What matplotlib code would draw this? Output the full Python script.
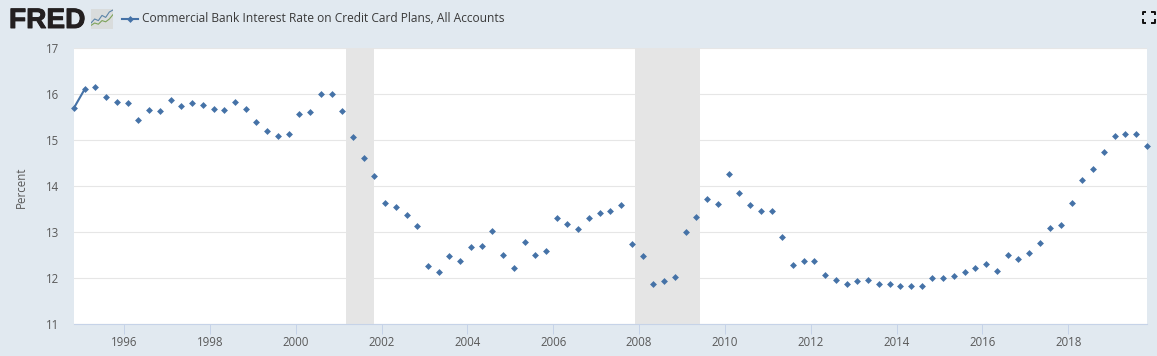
"""
FRED graph: commercial bank interest rate on credit card plans, all accounts.
"""

import matplotlib
matplotlib.use('Agg')
import matplotlib.pyplot as plt
import matplotlib.dates as mdates
import matplotlib.patheffects as pe
import pandas as pd

W, H = 1157, 356
BG = '#e1e9f0'
BLUE = '#4572a7'
GRID = '#e6e6e6'
AXIS = '#c6d3e8'
TEXT = '#595959'

START = '1994-11-01'
rates = [
    15.70, 16.11, 16.15, 15.93, 15.82, 15.81, 15.44, 15.66, 15.64, 15.88,
    15.75, 15.81, 15.77, 15.68, 15.66, 15.83, 15.68, 15.40, 15.20, 15.08,
    15.13, 15.56, 15.61, 15.99, 16.00, 15.64, 15.07, 14.60, 14.22, 13.63,
    13.54, 13.38, 13.12, 12.27, 12.14, 12.48, 12.36, 12.68, 12.70, 13.03,
    12.51, 12.22, 12.78, 12.49, 12.59, 13.31, 13.17, 13.07, 13.31, 13.42,
    13.46, 13.59, 12.75, 12.48, 11.88, 11.94, 12.03, 12.99, 13.33, 13.72,
    13.61, 14.27, 13.85, 13.59, 13.45, 13.45, 12.90, 12.29, 12.38, 12.36,
    12.07, 11.96, 11.88, 11.94, 11.96, 11.88, 11.86, 11.83, 11.83, 11.83,
    12.01, 11.99, 12.05, 12.12, 12.22, 12.31, 12.16, 12.51, 12.42, 12.55,
    12.77, 13.09, 13.16, 13.64, 14.14, 14.38, 14.75, 15.09, 15.14, 15.12,
    14.88,
]
recessions = [('2001-03-01', '2001-11-01'), ('2007-12-01', '2009-06-01')]
y_ticks = [11, 12, 13, 14, 15, 16, 17]
x_years = list(range(1996, 2020, 2))
legend_label = 'Commercial Bank Interest Rate on Credit Card Plans, All Accounts'

# icon lines in the logo
logo_blue = [0.30, 0.50, 0.42, 0.68, 0.58, 0.85, 0.95]
logo_green = [0.18, 0.30, 0.24, 0.42, 0.36, 0.50, 0.72]

plt.rcParams['font.family'] = ['Open Sans', 'DejaVu Sans']

dates = pd.date_range(START, periods=len(rates), freq='3MS')

fig = plt.figure(figsize=(W / 100, H / 100), dpi=100, facecolor=BG)


def px_axes(left, top, right, bottom):
    return fig.add_axes([left / W, 1 - bottom / H, (right - left) / W, (bottom - top) / H])


ax = px_axes(74, 48, 1147, 324)
ax.set_facecolor('white')
ax.set_xlim(dates[0], dates[-1])
ax.set_ylim(11, 17)

for start, end in recessions:
    ax.axvspan(pd.Timestamp(start), pd.Timestamp(end), color='#e5e5e5', lw=0, zorder=2)

ax.plot(dates[:2], rates[:2], color=BLUE, lw=1.5, zorder=3, clip_on=False)
ax.plot(dates, rates, ls='none', marker='D', ms=3.5, color=BLUE, mew=0, zorder=4, clip_on=False)

ax.set_yticks(y_ticks)
ax.grid(axis='y', color=GRID, lw=0.8, zorder=1)
ax.set_axisbelow(True)
ax.set_xticks([pd.Timestamp(f'{y}-01-01') for y in x_years])
ax.xaxis.set_major_formatter(mdates.DateFormatter('%Y'))
ax.tick_params(axis='x', length=7.2, width=0.72, color=AXIS, labelcolor=TEXT, labelsize=8.3, pad=1.8)
ax.tick_params(axis='y', length=0, labelcolor=TEXT, labelsize=8.3, pad=10.5)
for side in ['top', 'right', 'left']:
    ax.spines[side].set_visible(False)
ax.spines['bottom'].set_color(AXIS)
ax.spines['bottom'].set_linewidth(0.8)

fig.text(21 / W, 1 - 187 / H, 'Percent', rotation=90, color=TEXT, fontsize=8.3,
         ha='center', va='center')

# header: logo, legend and the fullscreen mark
fig.text(9 / W, 1 - 28 / H, 'FRED', color='#231f20', fontsize=20.2, fontweight='bold',
         family=['Liberation Sans'], ha='left', va='baseline',
         path_effects=[pe.withStroke(linewidth=0.7, foreground='#231f20')])

logo = px_axes(91, 9, 113, 29)
logo.set_facecolor('#d9dcdc')
logo.plot(logo_blue, color='#5b84a8', lw=0.8)
logo.plot(logo_green, color='#7da35a', lw=0.8)
logo.set_xlim(0, len(logo_blue) - 1)
logo.set_ylim(0, 1)
logo.set_xticks([])
logo.set_yticks([])
for spine in logo.spines.values():
    spine.set_visible(False)

overlay = fig.add_axes([0, 0, 1, 1], facecolor='none')
overlay.set_xlim(0, W)
overlay.set_ylim(H, 0)
overlay.axis('off')
overlay.plot([122, 138], [19, 19], color=BLUE, lw=1.5)
overlay.plot([130], [19], marker='D', ms=3.5, color=BLUE, mew=0)
overlay.text(142.5, 18.5, legend_label, color='#3a3a3a', fontsize=8.63, ha='left', va='center')

# fullscreen corners
for x0, x1, y0, y1 in [(1142.5, 1146, 11.5, 15), (1154.5, 1151, 11.5, 15),
                       (1142.5, 1146, 22.5, 19), (1154.5, 1151, 22.5, 19)]:
    overlay.plot([x0, x0, x1], [y1, y0, y0], color='#111111', lw=1.4, solid_capstyle='butt')

fig.savefig('out.png', dpi=100, facecolor=BG)
plt.close(fig)
